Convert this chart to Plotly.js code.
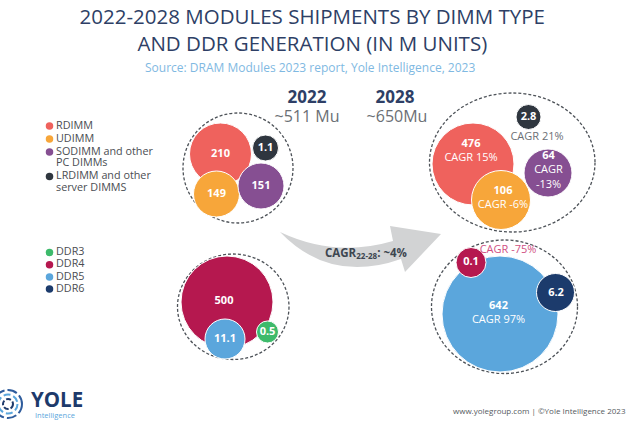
<!DOCTYPE html>
<html><head><meta charset="utf-8">
<script src="https://cdn.plot.ly/plotly-3.0.1.min.js"></script>
<style>html,body{margin:0;padding:0;background:#fff}#chart{width:640px;height:423px}</style>
</head><body><div id="chart"></div>
<script>
// ---------- DATA ----------
const dimmTypes = ['RDIMM', 'UDIMM', 'SODIMM and other PC DIMMs', 'LRDIMM and other server DIMMS'];
const dimm2022 = [210, 149, 151, 1.1];
const dimm2028 = [476, 106, 64, 2.8];
const dimmCagr = ['15%', '-6%', '-13%', '21%'];
const ddrGens = ['DDR3', 'DDR4', 'DDR5', 'DDR6'];
const ddr2022 = [0.5, 500, 11.1, null];
const ddr2028 = [null, 0.1, 642, 6.2];
const ddrCagr = [null, '-75%', '97%', null];
const years = ['2022', '2028'];
const totals = [511, 650];
const totalCagr = '~4%';

// ---------- STYLE / LAYOUT ----------
const F = 'Open Sans, Lato, sans-serif';
const dimmColors = ['#ef625d', '#f7a63a', '#864f92', '#2f363f'];
const ddrColors = ['#3dba6b', '#b5184f', '#5ba6dc', '#1c3b6c'];
const navy = '#2e3f66';

// bubble geometry (pixel space), by category index
const posDimm22 = {idx:[0,3,1,2], x:[220.5,265.5,216.5,261], y:[154,148,194,186], r:[31,13,23,23]};
const posDimm28 = {idx:[0,1,2,3], x:[473,501,548,528.5], y:[164,200,173,117], r:[41,29.5,24,12.5]};
const posDdr22  = {idx:[1,2,0], x:[227,225,267.5], y:[302,339,332], r:[46,20,11]};
const posDdr28  = {idx:[2,1,3], x:[500,471,555.5], y:[314,262.5,292.5], r:[58,15,19]};

function bubbles(pos, colors){
  return {
    type:'scatter', mode:'markers', hoverinfo:'skip', showlegend:false,
    x:pos.x, y:pos.y,
    marker:{size:pos.r.map(r=>2*r), color:pos.idx.map(i=>colors[i]), opacity:1,
            line:{color:'#ffffff', width:1}}
  };
}
function labels(xs, ys, texts, color, size, pos){
  return {type:'scatter', mode:'text', hoverinfo:'skip', showlegend:false,
    x:xs, y:ys, text:texts, textposition:pos||'middle center',
    textfont:{family:F, size:size||11, color:color||'#ffffff'}};
}
const b = v => '<b>' + v + '</b>';

// wrap legend names into lines of at most 16 characters
function wrap(s, w){
  const out=[]; let cur='';
  s.split(' ').forEach(word=>{
    if(cur && (cur+' '+word).length>w){out.push(cur); cur=word;} else cur = cur ? cur+' '+word : word;
  });
  if(cur) out.push(cur); return out;
}
function legend(names, colors, y0, step){
  const dotY=[], lx=[], ly=[], lt=[];
  let y=y0;
  names.forEach(n=>{
    const lines=wrap(n,16);
    dotY.push(y);
    lines.forEach((l,k)=>{lx.push(56); ly.push(y+k*11.5); lt.push(l);});
    y += step + (lines.length-1)*11.5;
  });
  return [
    {type:'scatter', mode:'markers', hoverinfo:'skip', showlegend:false,
     x:dotY.map(()=>49.5), y:dotY, marker:{size:7.5,color:colors}},
    labels(lx, ly, lt, '#4a4d52', 10.8, 'middle right')
  ];
}

const traces = [
  bubbles(posDimm22, dimmColors),
  labels([220.5,265.5,216.5,261],[154,148,194,186],
         [b(dimm2022[0]), b(dimm2022[3]), b(dimm2022[1]), b(dimm2022[2])]),
  bubbles(posDimm28, dimmColors),
  labels([471,503,548.5,528.5],[151.5,198.5,170.5,117],
         [b(dimm2028[0])+'<br>CAGR '+dimmCagr[0], b(dimm2028[1])+'<br>CAGR '+dimmCagr[1],
          b(dimm2028[2])+'<br>CAGR<br>'+dimmCagr[2], b(dimm2028[3])]),
  labels([537],[137],['CAGR '+dimmCagr[3]], '#6b6f75', 11),
  bubbles(posDdr22, ddrColors),
  labels([224,225,267.5],[301.5,339,332],[b(ddr2022[1]), b(ddr2022[2]), b(ddr2022[0])]),
  bubbles(posDdr28, ddrColors),
  labels([498.5,471,556],[313.5,262.5,293],[b(ddr2028[2])+'<br>CAGR '+ddrCagr[2], b(ddr2028[1]), b(ddr2028[3])]),
  labels([508],[250],['CAGR '+ddrCagr[1]], '#d04f83', 11),
  ...legend(dimmTypes, dimmColors, 126, 13),
  ...legend(ddrGens, ddrColors, 252.5, 12.2),
  // year headers
  labels([307,395],[99,99],[b(years[0]), b(years[1])], navy, 17),
  labels([307,397],[117.5,117.5],['~'+totals[0]+' Mu', '~'+totals[1]+'Mu'], '#6b6f75', 16)
];

const dash = {color:'#4d5258', width:1.3, dash:'3px,2px'};
const shapes = [
  {type:'circle', xref:'x', yref:'y', x0:183, x1:293, y0:113, y1:223, line:dash, layer:'below'},
  {type:'circle', xref:'x', yref:'y', x0:429.5, x1:595, y0:93, y1:232, line:dash, layer:'below'},
  {type:'circle', xref:'x', yref:'y', x0:177.5, x1:289, y0:254, y1:359.5, line:dash, layer:'below'},
  {type:'circle', xref:'x', yref:'y', x0:431.5, x1:577.5, y0:240, y1:373.5, line:dash, layer:'below'},
  // arrow
  {type:'path', xref:'x', yref:'y', layer:'below', fillcolor:'#d2d3d4', line:{width:0},
   path:'M 280,232 Q 335,258 393,241 L 390,226 L 441,234 L 405,272 L 401,259 Q 330,284 280,232 Z'},
  // logo rings
  {type:'circle', xref:'x', yref:'y', x0:-6, x1:22, y0:390, y1:418, line:{color:'#2f5c9c', width:2, dash:'10px,3px'}},
  {type:'circle', xref:'x', yref:'y', x0:-1.5, x1:17.5, y0:394.5, y1:413.5, line:{color:'#5ba6dc', width:2, dash:'7px,3px'}},
  {type:'circle', xref:'x', yref:'y', x0:3, x1:13, y0:399, y1:409, line:{color:'#1d3a6b', width:2, dash:'5px,2px'}}
];

const annotations = [
  {xref:'x', yref:'y', x:366, y:252.5, showarrow:false,
   text:'<b>CAGR<sub>22-28</sub>: '+totalCagr+'</b>', font:{family:F, size:11.5, color:'#3d4650'}},
  {xref:'x', yref:'y', x:310, y:67.5, showarrow:false,
   text:'Source: DRAM Modules 2023 report, Yole Intelligence, 2023', font:{family:F, size:12, color:'#7fb9e2'}},
  {xref:'x', yref:'y', x:57, y:399, showarrow:false,
   text:'<b>YOLE</b>', font:{family:F, size:20.5, color:'#1d3a6b'}},
  {xref:'x', yref:'y', x:54.5, y:414.5, showarrow:false,
   text:'Intelligence', font:{family:F, size:7.5, color:'#5ba6dc'}},
  {xref:'x', yref:'y', x:628, y:410, xanchor:'right', showarrow:false,
   text:'www.yolegroup.com | ©Yole Intelligence 2023', font:{family:F, size:8, color:'#555a60'}}
];

const layout = {
  width:640, height:423, margin:{l:0,r:0,t:0,b:0},
  paper_bgcolor:'#ffffff', plot_bgcolor:'#ffffff',
  title:{text:'2022-2028 MODULES SHIPMENTS BY DIMM TYPE<br>AND DDR GENERATION (IN M UNITS)',
         x:0.488, xanchor:'center', xref:'paper', yref:'container', y:0.943, yanchor:'top',
         font:{family:F, size:20.5, color:navy}},
  xaxis:{range:[0,640], visible:false, fixedrange:true},
  yaxis:{range:[423,0], visible:false, fixedrange:true},
  shapes:shapes, annotations:annotations, showlegend:false
};
Plotly.newPlot('chart', traces, layout, {staticPlot:true, displayModeBar:false});
</script></body></html>
